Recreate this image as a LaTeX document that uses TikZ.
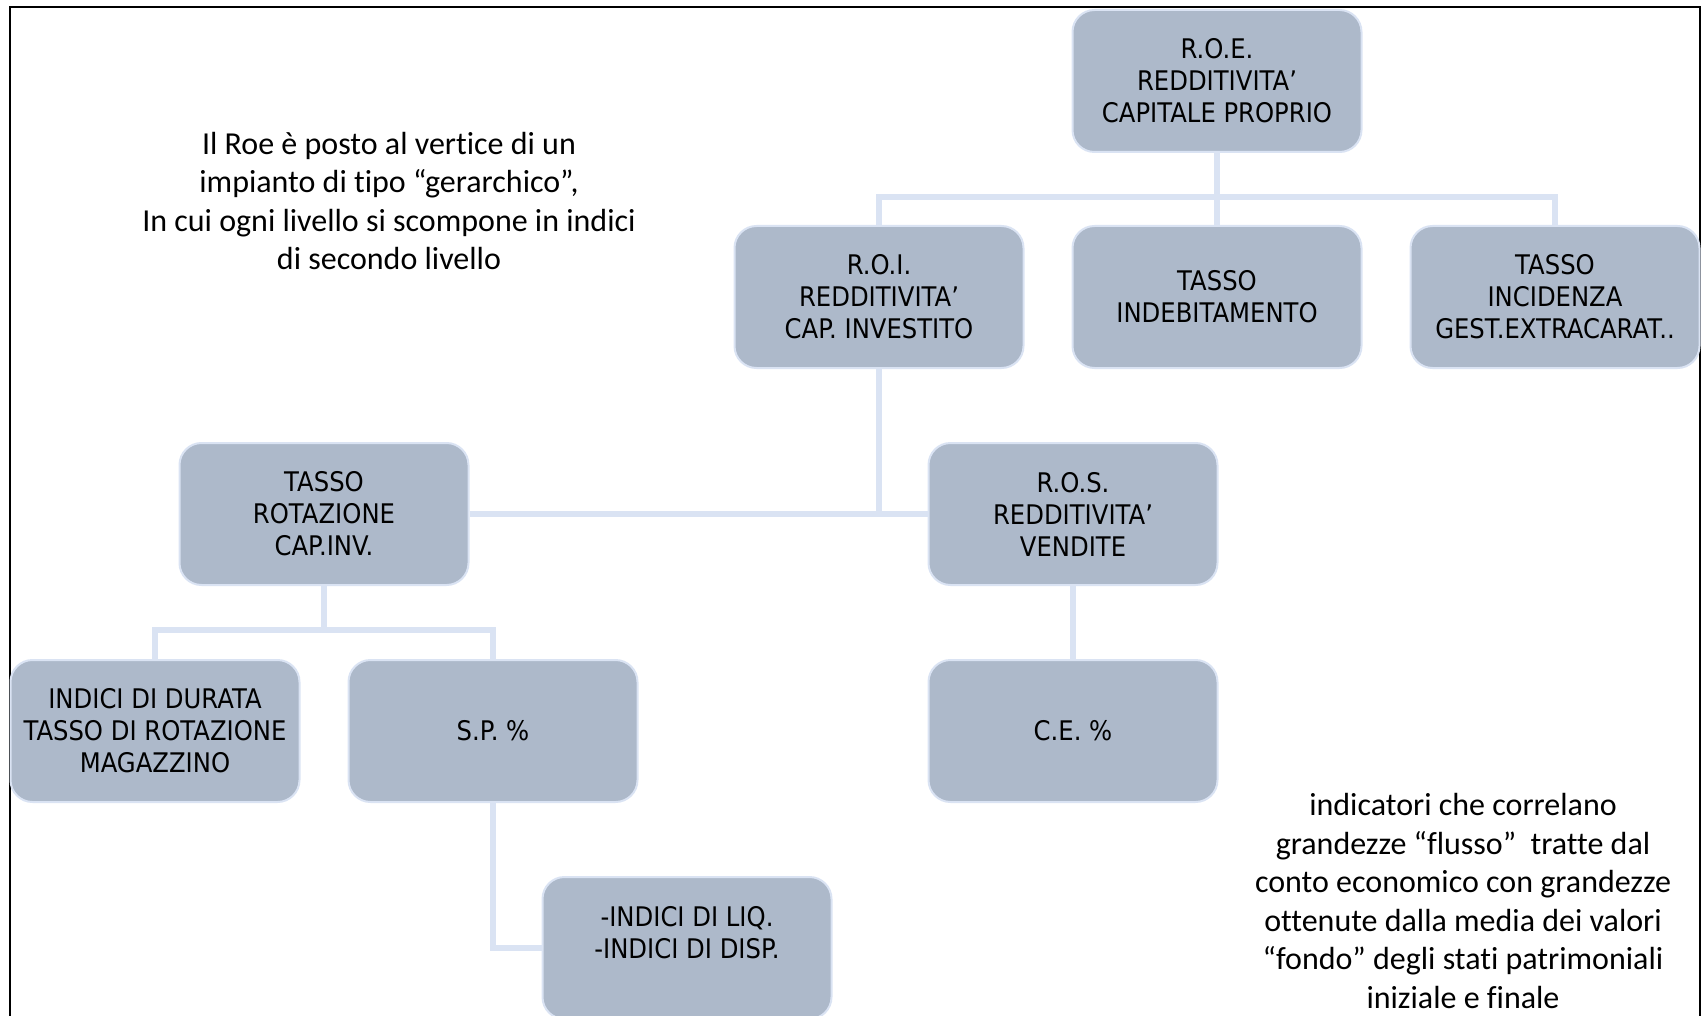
\documentclass[tikz,border=0pt]{standalone}
\usepackage{fontspec}
\setmainfont{Carlito}[Ligatures={NoCommon}]
\newfontfamily\boxfont{DejaVu Sans}[FakeStretch=0.9]
\definecolor{boxfill}{HTML}{ADB9CA}
\definecolor{boxedge}{HTML}{DAE3F3}
\definecolor{linkcol}{HTML}{DAE3F3}
\tikzset{
  box/.style={draw=boxedge, line width=2pt, fill=boxfill, rounded corners=22pt,
    minimum width=289pt, minimum height=142pt, inner sep=0pt, align=center,
    font=\boxfont\fontsize{27}{32}\selectfont, text=black},
  link/.style={draw=linkcol, line width=6pt},
  note/.style={align=center, font=\fontsize{32}{38.5}\selectfont, text=black}
}
\begin{document}
\begin{tikzpicture}[x=1pt, y=-1pt]
  \useasboundingbox (0,0) rectangle (1704,1016);
  % outer frame, open at the bottom
  \draw[line width=2pt, black] (10,1030) -- (10,7) -- (1700,7) -- (1700,1030);

  % level 1
  \node[box] (roe) at (1217,81) {R.O.E.\\REDDITIVITA’\\CAPITALE PROPRIO};
  % level 2
  \node[box] (roi)  at (879,297)  {R.O.I.\\REDDITIVITA’\\CAP. INVESTITO};
  \node[box] (indeb) at (1217,297) {TASSO\\INDEBITAMENTO};
  \node[box] (incid) at (1555,297) {TASSO\\INCIDENZA\\GEST.EXTRACARAT..};
  % level 3
  \node[box] (rot) at (324,514)  {TASSO\\ROTAZIONE\\CAP.INV.};
  \node[box] (ros) at (1073,514) {R.O.S.\\REDDITIVITA’\\VENDITE};
  % level 4
  \node[box] (dur) at (155,731)  {INDICI DI DURATA\\TASSO DI ROTAZIONE\\MAGAZZINO};
  \node[box] (sp)  at (493,731)  {S.P. \%};
  \node[box] (ce)  at (1073,731) {C.E. \%};
  % level 5
  \node[box] (liq) at (687,948)  {-INDICI DI LIQ.\\-INDICI DI DISP.\\\mbox{}};

  % connectors
  \coordinate (busA) at (0,197);
  \coordinate (busR) at (0,630);
  \draw[link] (roe.south) -- (roe.south |- busA);
  \draw[link] (roi.north) -- (roi.north |- busA) -- (incid.north |- busA) -- (incid.north);
  \draw[link] (indeb.north) -- (indeb.north |- busA);
  \draw[link] (roi.south) -- (roi.south |- rot.east);
  \draw[link] (rot.east) -- (ros.west);
  \draw[link] (rot.south) -- (rot.south |- busR);
  \draw[link] (dur.north) -- (dur.north |- busR) -- (sp.north |- busR) -- (sp.north);
  \draw[link] (ros.south) -- (ce.north);
  \draw[link] (sp.south) -- (sp.south |- liq.west) -- (liq.west);

  % notes
  \node[note] (noteL) at (389,201) {Il Roe è posto al vertice di un\\impianto di tipo “gerarchico”,\\In cui ogni livello si scompone in indici\\di secondo livello};
  \node[note] (noteR) at (1463,901) {indicatori che correlano\\grandezze “flusso”~~tratte dal\\conto economico con grandezze\\ottenute dalla media dei valori\\“fondo” degli stati patrimoniali\\iniziale e finale};
\end{tikzpicture}
\end{document}
